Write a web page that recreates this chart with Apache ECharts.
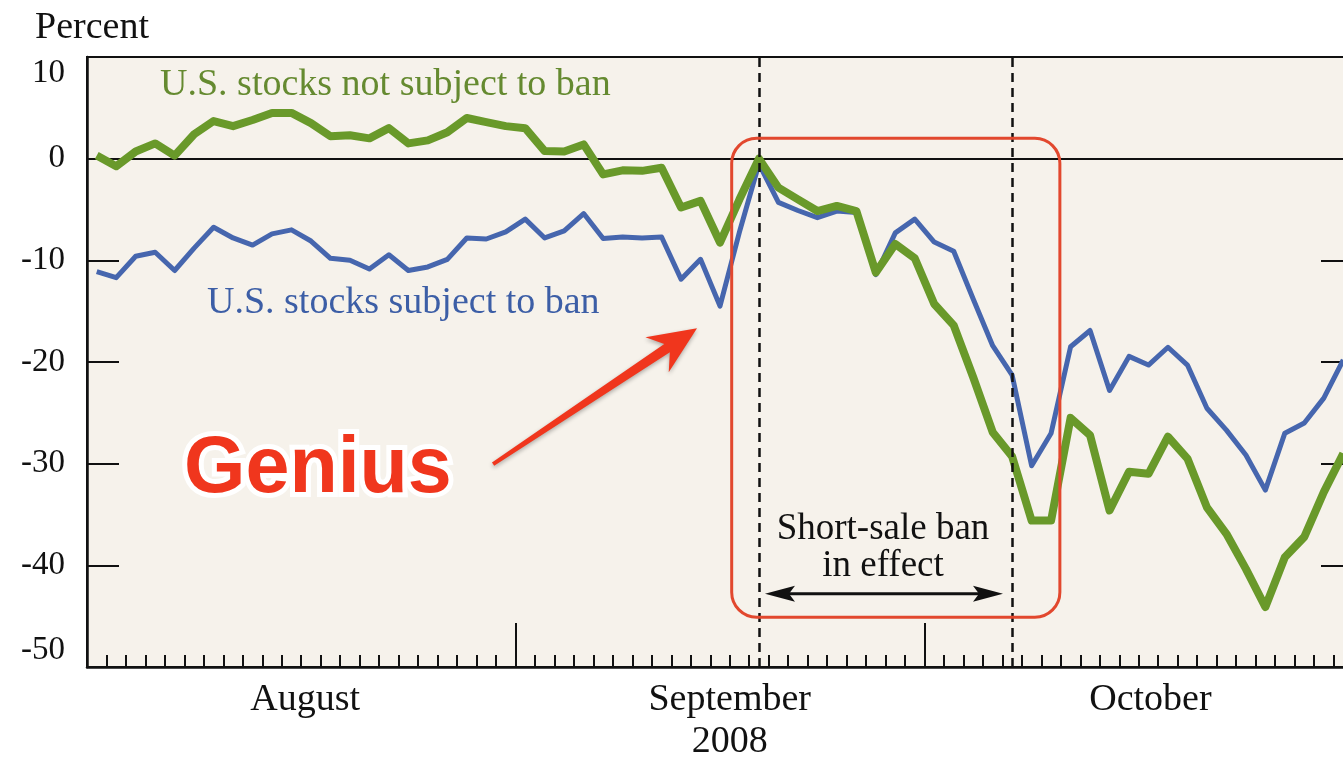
<!DOCTYPE html>
<html>
<head>
<meta charset="utf-8">
<title>Short-sale ban 2008</title>
<style>
    html, body { margin: 0; padding: 0; background: #fff; }
    #annular { width: 1343px; height: 759px; }
</style>
<script src="https://cdn.jsdelivr.net/npm/echarts@6.0.0/dist/echarts.min.js"></script>
</head>
<body>
<div id="annular"></div>
<script>
/* data */
var months = ['August', 'September', 'October'];
var monthDays = [22, 21, 22];          // trading-day slots per month
var year = '2008';
var yMin = -50, yMax = 10, yStep = 10;

var seriesNames = ['U.S. stocks subject to ban', 'U.S. stocks not subject to ban'];

// U.S. stocks subject to ban (blue)
var banned = [
    -11.1, -11.7, -9.6, -9.2, -11.0, -8.8, -6.75, -7.8, -8.5, -7.4, -7.0,
    -8.1, -9.8, -10.0, -10.85, -9.45, -11.0, -10.65, -9.9, -7.8, -7.9, -7.2,
    -5.95, -7.8, -7.1, -5.4, -7.85, -7.7, -7.8, -7.7, -11.85, -9.9, -14.5,
    -7.2, -0.5, -4.3, -5.1, -5.8, -5.15, -5.3, -11.4, -7.3, -5.95,
    -8.2, -9.1, -13.8, -18.4, -21.3, -30.2, -27.0, -18.5, -16.9, -22.8, -19.45,
    -20.3, -18.55, -20.3, -24.55, -26.7, -29.15, -32.6, -27.0, -26.0, -23.55, -19.8
];
// U.S. stocks not subject to ban (green)
var notBanned = [
    0.3, -0.75, 0.7, 1.5, 0.3, 2.4, 3.7, 3.2, 3.8, 4.5, 4.5,
    3.5, 2.2, 2.3, 2.0, 3.0, 1.5, 1.8, 2.6, 4.0, 3.6, 3.2,
    3.0, 0.75, 0.7, 1.4, -1.55, -1.15, -1.2, -0.9, -4.8, -4.15, -8.25,
    -4.0, 0, -2.85, -4.0, -5.15, -4.65, -5.15, -11.2, -8.4, -9.8,
    -14.3, -16.4, -21.5, -26.9, -29.3, -35.6, -35.6, -25.5, -27.2, -34.6, -30.8,
    -31.0, -27.35, -29.5, -34.3, -36.9, -40.35, -44.1, -39.2, -37.2, -32.8, -29.0
];
// short-sale ban start / end (slot index)
var banStart = 34, banEnd = 47;

var categories = [];
var monthEdges = [];
var dayEdges = [];
var total = 0;
months.forEach(function (m, i) {
    for (var d = 1; d <= monthDays[i]; d++) {
        categories.push(m.slice(0, 3) + ' ' + d);
    }
    total += monthDays[i];
    if (i < months.length - 1) monthEdges.push(total);
});
for (var t = 1; t < total; t++) dayEdges.push(t);

var serif = '"Liberation Serif", "DejaVu Serif", serif';
var ink = '#111';

getCharts();

/* chart */
function getCharts() {
    var myChart = echarts.init(document.getElementById('annular'));
    var option = {
        animation: false,
        backgroundColor: '#fff',
        grid: {
            left: 87,
            right: -10,
            top: 57,
            bottom: 92,
            show: true,
            backgroundColor: '#f6f2eb',
            borderColor: ink,
            borderWidth: 2,
            outerBoundsMode: 'none'
        },
        xAxis: [
            {
                type: 'category',
                data: categories,
                boundaryGap: true,
                position: 'bottom',
                axisLine: { show: true, onZero: false, lineStyle: { color: ink, width: 2.5 } },
                axisTick: { show: false },
                axisLabel: { show: false },
                splitLine: { show: false }
            },
            {
                // month edges + month names
                type: 'value',
                min: 0,
                max: total,
                position: 'bottom',
                axisLine: { show: false, onZero: false },
                axisTick: { show: true, inside: true, length: 44, customValues: monthEdges,
                    lineStyle: { color: ink, width: 2 } },
                axisLabel: {
                    customValues: [11.2, 33, 54.6],
                    formatter: function (v) {
                        if (v < monthEdges[0]) return months[0];
                        if (v < monthEdges[1]) return months[1] + '\n' + year;
                        return months[2];
                    },
                    fontFamily: serif,
                    fontSize: 38,
                    lineHeight: 42,
                    color: ink,
                    margin: 12
                },
                splitLine: { show: false }
            },
            {
                // one small tick per trading day
                type: 'value',
                min: 0,
                max: total,
                position: 'bottom',
                axisLine: { show: false, onZero: false },
                axisTick: { show: true, inside: true, length: 12, customValues: dayEdges,
                    lineStyle: { color: ink, width: 2 } },
                axisLabel: { show: false },
                splitLine: { show: false }
            }
        ],
        yAxis: [
            {
                type: 'value',
                min: yMin,
                max: yMax,
                interval: yStep,
                position: 'left',
                name: 'Percent',
                nameLocation: 'end',
                nameGap: 10,
                nameTextStyle: { fontFamily: serif, fontSize: 38, color: ink, align: 'center', padding: [0, 0, 0, 10] },
                axisLine: { show: true, onZero: false, lineStyle: { color: ink, width: 2.5 } },
                axisTick: { inside: true, length: 32, lineStyle: { color: ink, width: 2 } },
                axisLabel: {
                    fontFamily: serif,
                    fontSize: 33,
                    color: ink,
                    margin: 22,
                    verticalAlignMaxLabel: 'top',
                    verticalAlignMinLabel: 'bottom'
                },
                splitLine: { show: false }
            },
            {
                type: 'value',
                min: yMin,
                max: yMax,
                interval: yStep,
                position: 'right',
                axisLine: { show: true, onZero: false, lineStyle: { color: ink, width: 2.5 } },
                axisTick: { inside: true, length: 32, lineStyle: { color: ink, width: 2 } },
                axisLabel: { show: false },
                splitLine: { show: false }
            }
        ],
        series: [
            {
                name: seriesNames[0],
                type: 'line',
                data: banned,
                symbol: 'none',
                silent: true,
                z: 3,
                lineStyle: { color: '#4666ae', width: 5, join: 'round' },
                itemStyle: { color: '#4666ae' },
                markLine: {
                    silent: true,
                    symbol: 'none',
                    z: 1,
                    label: { show: false },
                    lineStyle: { color: ink, width: 2, type: 'solid' },
                    data: [{ yAxis: 0 }]
                }
            },
            {
                name: seriesNames[1],
                type: 'line',
                data: notBanned,
                symbol: 'none',
                silent: true,
                z: 4,
                lineStyle: { color: '#69992a', width: 8, join: 'round' },
                itemStyle: { color: '#69992a' },
                markLine: {
                    silent: true,
                    symbol: 'none',
                    z: 5,
                    label: { show: false },
                    lineStyle: { color: ink, width: 2.5, type: [9, 6] },
                    data: [{ xAxis: banStart }, { xAxis: banEnd }]
                }
            }
        ]
    };
    myChart.setOption(option);

    // annotations, placed through the axes
    function px(x, y) {
        return [
            myChart.convertToPixel({ xAxisIndex: 1 }, x),
            myChart.convertToPixel({ yAxisIndex: 0 }, y)
        ];
    }
    function text(pos, str, font, fill, align, extra) {
        var st = {
            text: str, font: font, fill: fill,
            align: align, textAlign: align,
            verticalAlign: 'middle', textVerticalAlign: 'middle'
        };
        for (var k in extra) st[k] = extra[k];
        return { type: 'text', x: pos[0], y: pos[1], z: 100, silent: true, style: st };
    }

    var b0 = px(33.1, 2.0), b1 = px(49.95, -45.1);

    // red "Genius" arrow
    var tail = px(20.85, -30.04), tip = px(31.32, -16.67);
    var dx = tip[0] - tail[0], dy = tip[1] - tail[1];
    var len = Math.sqrt(dx * dx + dy * dy);
    var ux = dx / len, uy = dy / len, nx = -uy, ny = ux;
    function at(along, side) {
        return [tip[0] - ux * along + nx * side, tip[1] - uy * along + ny * side];
    }
    var arrowPts = [
        [tail[0] + nx * 2, tail[1] + ny * 2],
        at(36, 5), at(48, 21), tip, at(48, -21), at(36, -5),
        [tail[0] - nx * 2, tail[1] - ny * 2]
    ];

    // short-sale double arrow
    var a0 = px(34.81, -42.8), a1 = px(47.03, -42.8);
    var ah = 30, aw = 8;

    var gFont = 'bold 79px "Liberation Sans", Arial, sans-serif';
    var gPos = px(4.98, -30.63);

    myChart.setOption({
        graphic: [
            {
                type: 'rect', z: 100, silent: true,
                shape: { x: b0[0], y: b0[1], width: b1[0] - b0[0], height: b1[1] - b0[1], r: 25 },
                style: { fill: null, stroke: '#e2482e', lineWidth: 3 }
            },
            text(px(3.75, 7.23), seriesNames[1], '38px ' + serif, '#658a30', 'left'),
            text(px(6.16, -14.2), seriesNames[0], '38px ' + serif, '#3c5ea6', 'left'),
            text(px(40.87, -38.25), 'Short-sale ban\nin effect', '37px ' + serif, ink, 'center', { lineHeight: 37 }),
            {
                type: 'line', z: 100, silent: true,
                shape: { x1: a0[0] + 10, y1: a0[1], x2: a1[0] - 10, y2: a1[1] },
                style: { stroke: ink, lineWidth: 3 }
            },
            {
                type: 'polygon', z: 100, silent: true,
                shape: { points: [[a0[0], a0[1]], [a0[0] + ah, a0[1] - aw], [a0[0] + ah - 6, a0[1]], [a0[0] + ah, a0[1] + aw]] },
                style: { fill: ink }
            },
            {
                type: 'polygon', z: 100, silent: true,
                shape: { points: [[a1[0], a1[1]], [a1[0] - ah, a1[1] - aw], [a1[0] - ah + 6, a1[1]], [a1[0] - ah, a1[1] + aw]] },
                style: { fill: ink }
            },
            {
                type: 'polygon', z: 101, silent: true,
                shape: { points: arrowPts },
                style: { fill: '#f0361d', shadowBlur: 4, shadowColor: 'rgba(0,0,0,0.3)', shadowOffsetY: 2 }
            },
            text(gPos, 'Genius', gFont, '#ffffff', 'left', {
                stroke: '#ffffff', lineWidth: 10, lineJoin: 'round',
                shadowBlur: 6, shadowColor: 'rgba(0,0,0,0.35)', shadowOffsetY: 3
            }),
            text(gPos, 'Genius', gFont, '#f0361d', 'left')
        ]
    });
}
</script>
</body>
</html>
